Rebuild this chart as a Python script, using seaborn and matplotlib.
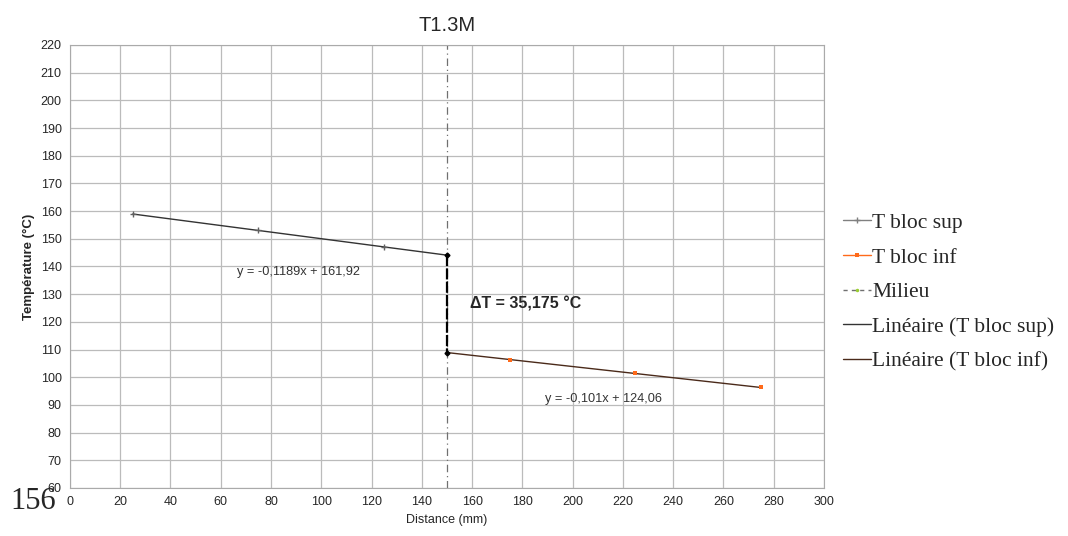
import numpy as np
import pandas as pd
import matplotlib
matplotlib.use("Agg")
import matplotlib.pyplot as plt
from matplotlib.lines import Line2D
import seaborn as sns

# data
x_sup = [25, 75, 125]
t_sup = [158.9, 153.0, 147.0]
x_inf = [175, 225, 275]
t_inf = [106.4, 101.5, 96.4]
x_mid = [150, 150]
t_mid = [60, 220]

# linear fits shown on chart
a_sup, b_sup = -0.1189, 161.92
a_inf, b_inf = -0.101, 124.06
x_fit_sup = [25, 150]
x_fit_inf = [150, 275]

sns.set_style("white")
plt.rcParams['font.family'] = ['Liberation Sans', 'DejaVu Sans']

fig = plt.figure(figsize=(10.68, 5.36), dpi=100)
ax = fig.add_axes([0.0655, 0.0896, 0.706, 0.8265])

df_sup = pd.DataFrame({"x": x_sup, "t": t_sup})
df_inf = pd.DataFrame({"x": x_inf, "t": t_inf})

sns.lineplot(data=df_sup, x="x", y="t", ax=ax, color="#707070", marker="+",
             markersize=4, markeredgecolor="#606060", markeredgewidth=1.0,
             linewidth=0, zorder=5)
sns.lineplot(data=df_inf, x="x", y="t", ax=ax, color="#ff6a1a", marker="s",
             markersize=3.5, markeredgewidth=0, linewidth=0, zorder=5)
ax.plot(x_mid, t_mid, color="#707070", linestyle=(0, (6, 3, 1, 3)), linewidth=0.9)

y_fit_sup = [a_sup * v + b_sup for v in x_fit_sup]
y_fit_inf = [a_inf * v + b_inf for v in x_fit_inf]
ax.plot(x_fit_sup, y_fit_sup, color="#333333", linewidth=1.0)
ax.plot(x_fit_inf, y_fit_inf, color="#4a2a1a", linewidth=1.0)

# delta T marker
y_top = y_fit_sup[1]
y_bot = y_fit_inf[0]
ax.plot([150, 150], [y_top, y_bot], color="black", linestyle=(0, (5, 1)), linewidth=1.6,
        marker="D", markersize=2.5)
ax.text(159, 126.5, "ΔT = 35,175 °C", fontsize=11.5, fontweight="bold", va="center")
ax.text(66.5, 138, "y = -0,1189x + 161,92", fontsize=9.2, color="#333333", va="center")
ax.text(189, 92.3, "y = -0,101x + 124,06", fontsize=9.2, color="#333333", va="center")

ax.set_xlim(0, 300)
ax.set_ylim(60, 220)
ax.set_xticks(np.arange(0, 301, 20))
ax.set_yticks(np.arange(60, 221, 10))
ax.grid(True, color="#bbbbbb", linewidth=0.9)
for s in ax.spines.values():
    s.set_color("#aaaaaa")
ax.tick_params(labelsize=9, length=0, pad=6)
ax.set_title("T1.3M", fontsize=14.5, pad=10)
ax.set_xlabel("Distance (mm)", fontsize=9)
ax.set_ylabel("Température (°C)", fontsize=9.5, fontweight="bold")
if ax.legend_:
    ax.legend_.remove()

handles = [
    Line2D([], [], color="#808080", lw=1, marker="+", markersize=5),
    Line2D([], [], color="#ff6a1a", lw=1, marker="s", markersize=3.5, markeredgewidth=0),
    Line2D([], [], color="#707070", lw=1, ls=(0, (3, 3)), marker=".", markersize=3,
           markerfacecolor="#9acd32", markeredgecolor="#9acd32"),
    Line2D([], [], color="#333333", lw=1),
    Line2D([], [], color="#4a2a1a", lw=1),
]
labels = ["T bloc sup", "T bloc inf", "Milieu", "Linéaire (T bloc sup)", "Linéaire (T bloc inf)"]
fig.legend(handles, labels, loc="upper left", bbox_to_anchor=(0.781, 0.619),
           frameon=False, prop={"family": ["Liberation Serif", "DejaVu Serif"], "size": 15.5},
           handlelength=1.3, handletextpad=0.08, labelspacing=0.68, borderaxespad=0)

fig.text(0.01, 0.05, "156", fontsize=22, family=["Liberation Serif", "DejaVu Serif"])

fig.savefig("out.png", dpi=100)
